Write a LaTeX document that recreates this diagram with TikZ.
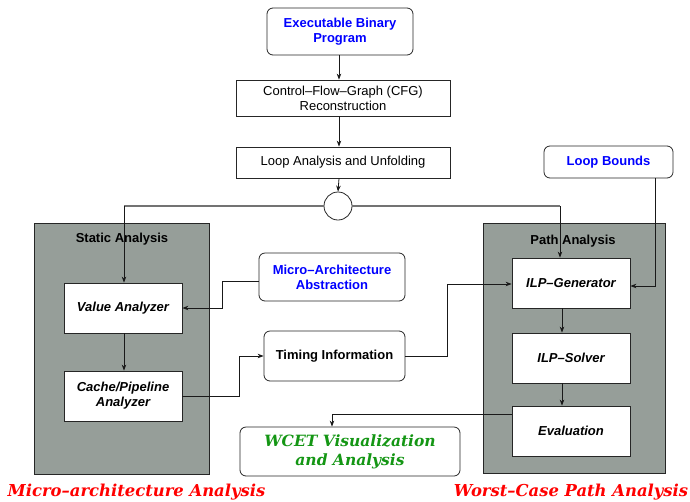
\documentclass[tikz,border=0pt]{standalone}
\usepackage{fontspec}
\setsansfont{Liberation Sans}
\newfontfamily\schfont[Ligatures=TeX]{DejaVu Serif}
\usetikzlibrary{arrows.meta}
\definecolor{panelgray}{RGB}{150,158,153}
\definecolor{wgreen}{RGB}{20,150,20}
\begin{document}
\begin{tikzpicture}[x=1pt,y=-1pt,
  box/.style={draw=black!85,line width=0.8pt,fill=white,align=center,inner sep=1pt,
    font=\sffamily\fontsize{13}{15}\selectfont},
  rbox/.style={box,rounded corners=6pt},
  ibox/.style={box,font=\sffamily\bfseries\itshape\fontsize{13}{15}\selectfont},
  blue/.style={text=blue,font=\sffamily\bfseries\fontsize{13}{15}\selectfont},
  panel/.style={draw=black!85,line width=0.8pt,fill=panelgray},
  conn/.style={line width=0.8pt,draw=black!90,-{Stealth[length=6pt,width=4.5pt]}},
  gconn/.style={line width=1.3pt,draw=black!55},
  ttl/.style={font=\sffamily\bfseries\fontsize{13}{15}\selectfont},
  redlbl/.style={text=red,font=\schfont\bfseries\itshape\fontsize{16.4}{18}\selectfont}
]
\useasboundingbox (0,0) rectangle (690,501);
% panels
\path[panel] (34,223) rectangle (209,474);
\path[panel] (483,223) rectangle (665,473);
\node[ttl] (st) at (122,239) {Static Analysis};
\node[ttl] (pt) at (573,241) {Path Analysis};
% nodes
\node[rbox,blue,minimum width=146pt,minimum height=47pt] (exe) at (340,31.5) {Executable Binary\\Program};
\node[box,minimum width=214pt,minimum height=36pt] (cfg) at (343,98) {Control--Flow--Graph (CFG)\\Reconstruction};
\node[box,minimum width=214pt,minimum height=31pt] (loop) at (343,162.5) {Loop Analysis and Unfolding};
\node[draw=black!85,line width=0.8pt,fill=white,circle,minimum size=28pt,inner sep=0pt] (circ) at (338,206) {};
\node[ibox,minimum width=118pt,minimum height=50pt] (va) at (123,308) {Value Analyzer};
\node[ibox,minimum width=118pt,minimum height=50pt] (cp) at (123,396) {Cache/Pipeline\\Analyzer};
\node[rbox,blue,minimum width=146pt,minimum height=48pt] (mab) at (332,277) {Micro--Architecture\\Abstraction};
\node[rbox,font=\sffamily\bfseries\fontsize{13}{15}\selectfont,minimum width=141pt,minimum height=50pt] (tim) at (334.5,356) {Timing Information};
\node[rbox,text=wgreen,font=\schfont\bfseries\itshape\fontsize{15.5}{19}\selectfont,minimum width=220pt,minimum height=49pt] (wcet) at (350,451.5) {WCET Visualization\\and Analysis};
\node[ibox,minimum width=118pt,minimum height=50pt] (ilpg) at (571,283) {ILP--Generator};
\node[ibox,minimum width=118pt,minimum height=50pt] (ilps) at (571,358) {ILP--Solver};
\node[ibox,minimum width=118pt,minimum height=50pt] (eval) at (571,431) {Evaluation};
\node[rbox,blue,minimum width=129pt,minimum height=32pt] (lb) at (608.5,162) {Loop Bounds};
% red labels
\node[redlbl] (mal) at (136.5,492) {Micro–architecture Analysis};
\node[redlbl] (wcp) at (571,492) {Worst–Case Path Analysis};
% connectors
\draw[conn] (exe.south -| 339,0) -- (cfg.north -| 339,0);
\draw[conn] (cfg.south -| 339,0) -- (loop.north -| 339,0);
\draw[conn] (loop.south -| 339,0) -- (circ.north);
\coordinate (cl) at (124,206);
\coordinate (cr) at (560,206);
\draw[gconn] (circ.west) -- (cl);
\draw[gconn] (circ.east) -- (cr);
\draw[conn] (cl) -- (va.north -| cl);
\draw[conn] (cr) -- (ilpg.north -| cr);
\draw[conn] (va.south -| 124,0) -- (cp.north -| 124,0);
\draw[conn] (mab.west |- 0,281) -| (222,308) -- (va.east |- 0,308);
\draw[conn] (cp.east |- 0,396) -| (239,356) -- (tim.west |- 0,356);
\draw[conn] (tim.east) -| (447,284) -- (ilpg.west |- 0,284);
\draw[conn] (lb.south -| 655,0) |- (ilpg.east |- 0,286);
\draw[conn] (ilpg.south -| 562,0) -- (ilps.north -| 562,0);
\draw[conn] (ilps.south -| 562,0) -- (eval.north -| 562,0);
\draw[conn] (eval.west |- 0,414) -| (wcet.north -| 332,0);
\end{tikzpicture}
\end{document}
